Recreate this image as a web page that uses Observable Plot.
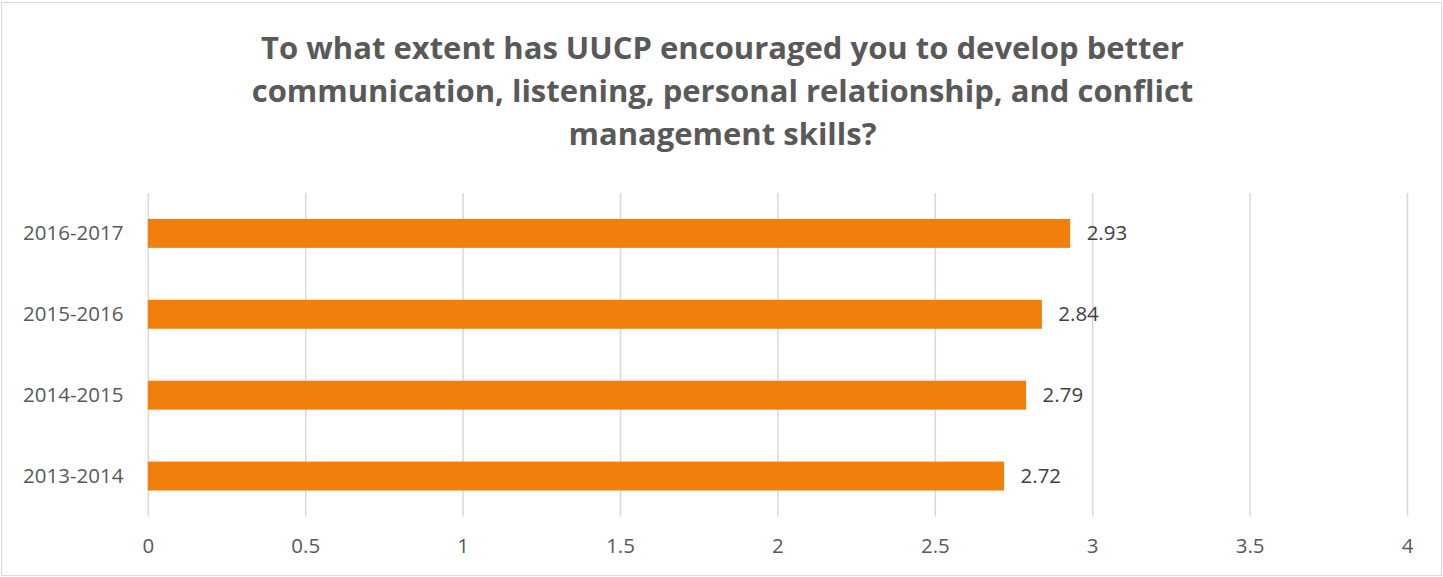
<!DOCTYPE html>
<html><head><meta charset="utf-8">
<script src="https://cdn.jsdelivr.net/npm/d3@7"></script>
<script src="https://cdn.jsdelivr.net/npm/@observablehq/plot@0.6"></script>
<style>
html,body{margin:0;padding:0;background:#fff;}
#wrap{position:relative;width:1441px;height:574px;margin:2px 0 0 1px;border:1px solid #d9d9d9;box-sizing:border-box;overflow:hidden;font-family:"Open Sans",sans-serif;}
#title{position:absolute;left:0;top:23px;width:1441px;text-align:center;font-family:"Open Sans",sans-serif;font-weight:700;font-size:31px;line-height:43px;color:#595959;}
#chart{position:absolute;left:-2px;top:156px;}
</style></head>
<body>
<div id="wrap">
<div id="title">To what extent has UUCP encouraged you to develop better<br>communication, listening, personal relationship, and conflict<br>management skills?</div>
<div id="chart"></div>
</div>
<script>
const years = ["2016-2017","2015-2016","2014-2015","2013-2014"];
const scores = [2.93,2.84,2.79,2.72];
const xTicks = [0,0.5,1,1.5,2,2.5,3,3.5,4];
const xTickLabels = ["0","0.5","1","1.5","2","2.5","3","3.5","4"];

const data = years.map((y,i)=>({year:y, value:scores[i]}));

const chart = Plot.plot({
  width:1443,
  height:421,
  marginTop:34,
  marginBottom:63,
  marginLeft:148,
  marginRight:34,
  style:{fontFamily:"'Open Sans',sans-serif",fontSize:"20.5px",color:"#595959",background:"transparent"},
  x:{domain:[0,4],ticks:xTicks,tickFormat:(d)=>xTickLabels[xTicks.indexOf(d)],tickSize:0,tickPadding:21,label:null},
  y:{domain:years,paddingInner:0.64,paddingOuter:0.32,align:0.5,tickSize:0,tickPadding:25,label:null},
  marks:[
    Plot.ruleX(xTicks,{stroke:"#d9d9d9",strokeWidth:1.5}),
    Plot.barX(data,{x:"value",y:"year",fill:"#f0800b"}),
    Plot.text(data,{x:"value",y:"year",text:d=>d.value.toFixed(2),textAnchor:"start",dx:16,fill:"#404040",fontSize:20.5})
  ]
});
document.getElementById("chart").appendChild(chart);
</script>
</body></html>
